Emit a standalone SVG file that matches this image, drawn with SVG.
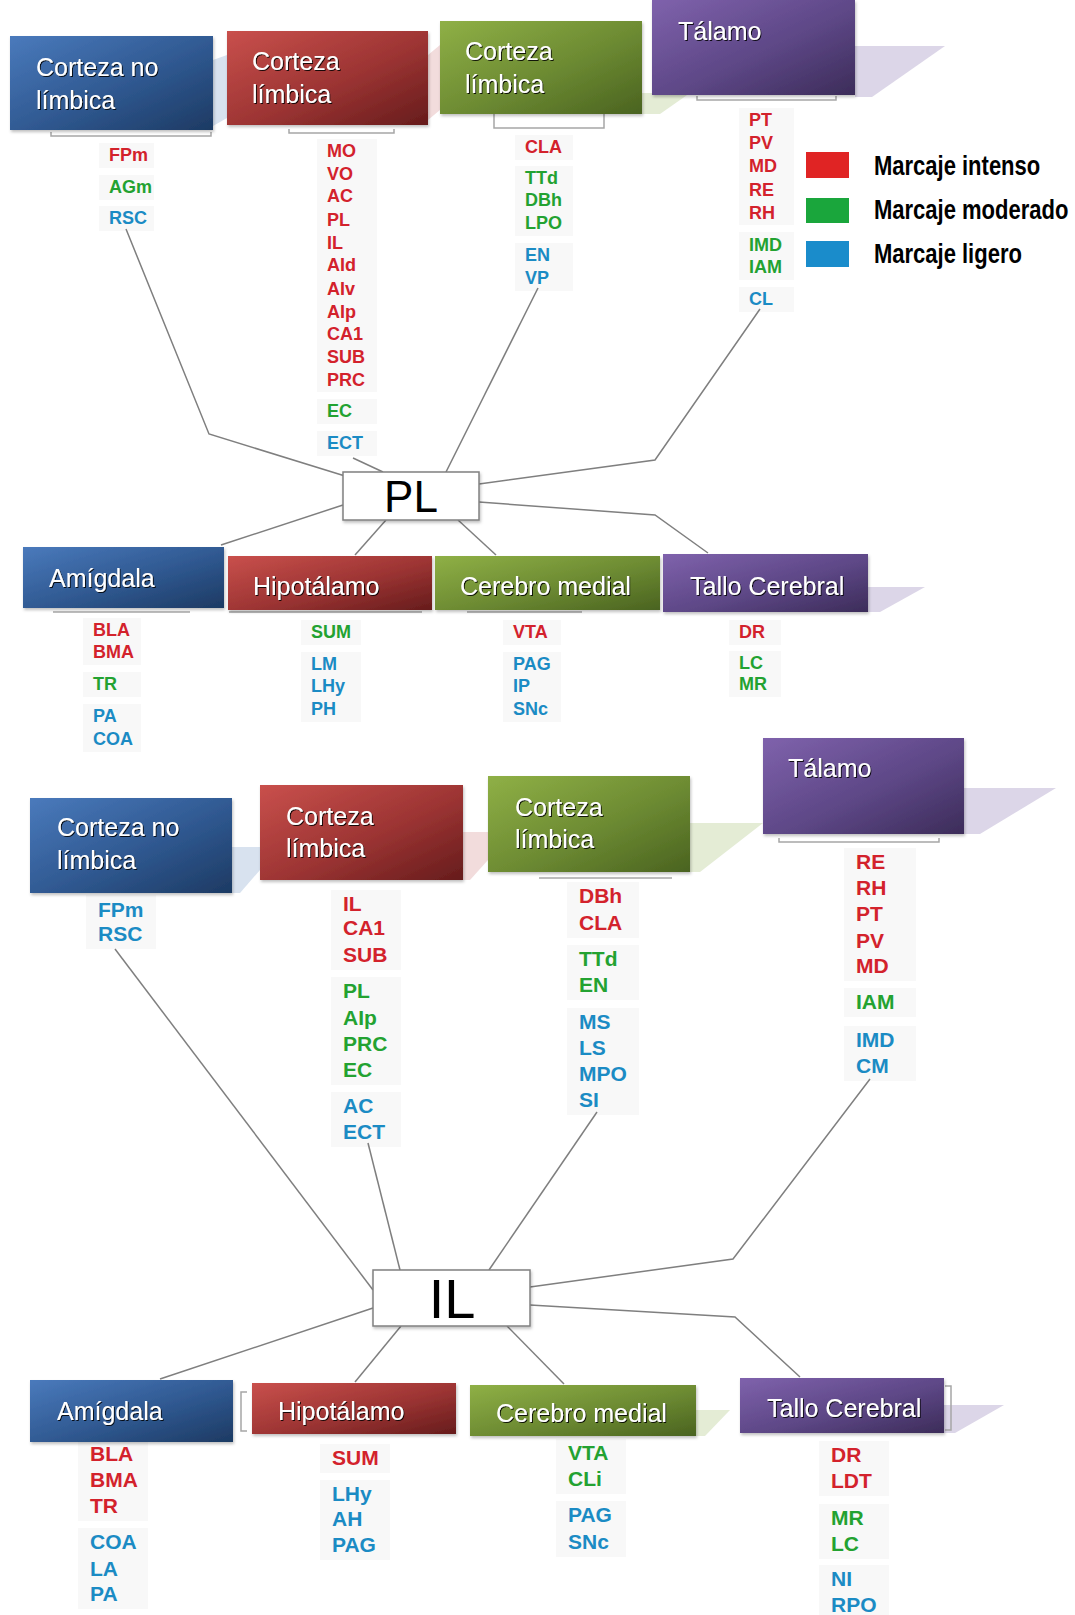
<svg xmlns="http://www.w3.org/2000/svg" width="1075" height="1615" viewBox="0 0 1075 1615">
<defs>
<linearGradient id="gBlue" x1="0" y1="0" x2="1" y2="1"><stop offset="0" stop-color="#4a7abc"/><stop offset="0.55" stop-color="#2f5890"/><stop offset="1" stop-color="#1d3a63"/></linearGradient>
<linearGradient id="gRed" x1="0" y1="0" x2="1" y2="1"><stop offset="0" stop-color="#c9504c"/><stop offset="0.55" stop-color="#9c3433"/><stop offset="1" stop-color="#661c1c"/></linearGradient>
<linearGradient id="gGreen" x1="0" y1="0" x2="1" y2="1"><stop offset="0" stop-color="#8fb046"/><stop offset="0.55" stop-color="#6c8a32"/><stop offset="1" stop-color="#4a6320"/></linearGradient>
<linearGradient id="gPurple" x1="0" y1="0" x2="1" y2="1"><stop offset="0" stop-color="#7f62ac"/><stop offset="0.55" stop-color="#5d4786"/><stop offset="1" stop-color="#3c2c59"/></linearGradient>
<filter id="ts" x="-10%" y="-30%" width="130%" height="160%"><feDropShadow dx="1" dy="1" stdDeviation="0.6" flood-color="#000" flood-opacity="0.85"/></filter>
<filter id="bs" x="-5%" y="-5%" width="115%" height="120%"><feDropShadow dx="1" dy="2" stdDeviation="1.5" flood-color="#000" flood-opacity="0.25"/></filter>
</defs>
<style>
.t{font-family:"Liberation Sans",Arial,sans-serif;font-size:25px;fill:#fff;filter:url(#ts)}
.s{font-family:"Liberation Sans",Arial,sans-serif;font-size:18px;font-weight:bold}
.m{font-family:"Liberation Sans",Arial,sans-serif;font-size:21px;font-weight:bold}
.r{fill:#d3222c}.g{fill:#23a231}.b{fill:#1b8bc4}
.bg{fill:#f8f8f8}
.br{fill:none;stroke:#a6a6a6;stroke-width:1.5}
.wp{fill:#dcd6e8}.wg{fill:#e4ecd5}.wr{fill:#f2dcdc}.wb{fill:#d8e2ef}
.cn{fill:none;stroke:#7f7f7f;stroke-width:1.5}
.ctr{fill:#fff;stroke:#808080;stroke-width:1.5}
.ct{font-family:"Liberation Sans",Arial,sans-serif;fill:#000;text-anchor:middle}
.lg{font-family:"Liberation Sans",Arial,sans-serif;font-size:22px;font-weight:bold;fill:#000}
</style>
<rect width="1075" height="1615" fill="#fff"/>

<!-- wedges / 3D accents -->
<g id="wedges">
<polygon class="wb" points="213,60 227,55 227,118 213,126"/>
<polygon class="wr" points="428,55 440,45 440,110 428,120"/>
<polygon class="wg" points="642,93 690,93 660,114 642,114"/>
<polygon class="wp" points="855,46 945,46 872,97 855,97"/>
<polygon class="wp" points="868,587 925,587 880,612 868,612"/>
<polygon class="wb" points="232,847 260,847 260,870 240,893 232,893"/>
<polygon class="wr" points="463,832 488,832 488,860 470,880 463,880"/>
<polygon class="wg" points="690,823 763,823 700,872 690,872"/>
<polygon class="wp" points="964,788 1056,788 980,834 964,834"/>
<polygon class="wg" points="696,1410 730,1410 705,1436 696,1436"/>
<polygon class="wp" points="944,1405 1004,1405 955,1433 944,1433"/>
</g>

<!-- brackets -->
<g id="brackets">
<path class="br" d="M51,132 V136 H211 V132"/>
<path class="br" d="M289,129 V133 H394 V129"/>
<path class="br" d="M494,114 V128 H604 V114"/>
<path class="br" d="M697,96 V100 H836 V96"/>
<path class="br" d="M53,612 H190"/>
<path class="br" d="M229,612 H422"/>
<path class="br" d="M467,612 H582"/>
<path class="br" d="M539,878 H672"/>
<path class="br" d="M779,838 V842 H939 V838"/>
<path class="br" d="M247,1392 H241 V1431 H247"/>
<path class="br" d="M945,1386 H951 V1430 H945"/>
</g>

<!-- list backgrounds -->
<g id="listbg">
<rect class="bg" x="99" y="143" width="55" height="25"/>
<rect class="bg" x="99" y="175" width="55" height="25"/>
<rect class="bg" x="99" y="206" width="55" height="25"/>
<rect class="bg" x="317" y="139" width="60" height="253"/>
<rect class="bg" x="317" y="399" width="60" height="25"/>
<rect class="bg" x="317" y="431" width="60" height="25"/>
<rect class="bg" x="515" y="135" width="58" height="25"/>
<rect class="bg" x="515" y="166" width="58" height="70"/>
<rect class="bg" x="515" y="243" width="58" height="48"/>
<rect class="bg" x="739" y="108" width="55" height="117"/>
<rect class="bg" x="739" y="232" width="55" height="48"/>
<rect class="bg" x="739" y="287" width="55" height="25"/>
<rect class="bg" x="83" y="618" width="58" height="47"/>
<rect class="bg" x="83" y="672" width="58" height="25"/>
<rect class="bg" x="83" y="704" width="58" height="48"/>
<rect class="bg" x="301" y="620" width="60" height="25"/>
<rect class="bg" x="301" y="652" width="60" height="70"/>
<rect class="bg" x="503" y="620" width="58" height="25"/>
<rect class="bg" x="503" y="652" width="58" height="70"/>
<rect class="bg" x="729" y="620" width="52" height="25"/>
<rect class="bg" x="729" y="651" width="52" height="46"/>
<rect class="bg" x="86" y="895" width="70" height="54"/>
<rect class="bg" x="331" y="890" width="70" height="80"/>
<rect class="bg" x="331" y="977" width="70" height="108"/>
<rect class="bg" x="331" y="1092" width="70" height="55"/>
<rect class="bg" x="567" y="882" width="72" height="56"/>
<rect class="bg" x="567" y="945" width="72" height="55"/>
<rect class="bg" x="567" y="1008" width="72" height="107"/>
<rect class="bg" x="844" y="848" width="72" height="133"/>
<rect class="bg" x="844" y="988" width="72" height="29"/>
<rect class="bg" x="844" y="1026" width="72" height="55"/>
<rect class="bg" x="78" y="1440" width="70" height="81"/>
<rect class="bg" x="78" y="1528" width="70" height="81"/>
<rect class="bg" x="320" y="1444" width="70" height="29"/>
<rect class="bg" x="320" y="1480" width="70" height="80"/>
<rect class="bg" x="556" y="1439" width="70" height="55"/>
<rect class="bg" x="556" y="1501" width="70" height="56"/>
<rect class="bg" x="819" y="1441" width="70" height="55"/>
<rect class="bg" x="819" y="1504" width="70" height="55"/>
<rect class="bg" x="819" y="1565" width="70" height="50"/>
</g>

<!-- connectors -->
<g id="connectors">
<polyline class="cn" points="126,229 209,434 345,476"/>
<polyline class="cn" points="353,458 383,472"/>
<polyline class="cn" points="538,288 446,472"/>
<polyline class="cn" points="760,309 655,460 479,484"/>
<polyline class="cn" points="479,502 655,515 708,553"/>
<polyline class="cn" points="458,520 496,555"/>
<polyline class="cn" points="386,520 355,555"/>
<polyline class="cn" points="343,505 221,545"/>
<polyline class="cn" points="115,949 373,1290"/>
<polyline class="cn" points="368,1143 400,1270"/>
<polyline class="cn" points="597,1112 489,1270"/>
<polyline class="cn" points="870,1079 733,1259 530,1287"/>
<polyline class="cn" points="530,1305 735,1317 800,1377"/>
<polyline class="cn" points="507,1326 564,1384"/>
<polyline class="cn" points="401,1326 355,1382"/>
<polyline class="cn" points="373,1308 160,1379"/>
</g>

<!-- ===== PL section ===== -->
<g id="pl-corteza-no-limbica">
<rect x="10" y="36" width="203" height="94" fill="url(#gBlue)" filter="url(#bs)"/>
<text class="t" x="36" y="76">Corteza no</text>
<text class="t" x="36" y="109">límbica</text>
<text class="s r" x="109" y="161">FPm</text>
<text class="s g" x="109" y="193">AGm</text>
<text class="s b" x="109" y="224">RSC</text>
</g>
<g id="pl-corteza-limbica-1">
<rect x="227" y="31" width="201" height="94" fill="url(#gRed)" filter="url(#bs)"/>
<text class="t" x="252" y="70">Corteza</text>
<text class="t" x="252" y="103">límbica</text>
<text class="s r" x="327" y="157">MO</text>
<text class="s r" x="327" y="180">VO</text>
<text class="s r" x="327" y="202">AC</text>
<text class="s r" x="327" y="226">PL</text>
<text class="s r" x="327" y="249">IL</text>
<text class="s r" x="327" y="271">AId</text>
<text class="s r" x="327" y="295">AIv</text>
<text class="s r" x="327" y="318">AIp</text>
<text class="s r" x="327" y="340">CA1</text>
<text class="s r" x="327" y="363">SUB</text>
<text class="s r" x="327" y="386">PRC</text>
<text class="s g" x="327" y="417">EC</text>
<text class="s b" x="327" y="449">ECT</text>
</g>
<g id="pl-corteza-limbica-2">
<rect x="440" y="21" width="202" height="93" fill="url(#gGreen)" filter="url(#bs)"/>
<text class="t" x="465" y="60">Corteza</text>
<text class="t" x="465" y="93">límbica</text>
<text class="s r" x="525" y="153">CLA</text>
<text class="s g" x="525" y="184">TTd</text>
<text class="s g" x="525" y="206">DBh</text>
<text class="s g" x="525" y="229">LPO</text>
<text class="s b" x="525" y="261">EN</text>
<text class="s b" x="525" y="284">VP</text>
</g>
<g id="pl-talamo">
<rect x="652" y="0" width="203" height="95" fill="url(#gPurple)" filter="url(#bs)"/>
<text class="t" x="678" y="40">Tálamo</text>
<text class="s r" x="749" y="126">PT</text>
<text class="s r" x="749" y="149">PV</text>
<text class="s r" x="749" y="172">MD</text>
<text class="s r" x="749" y="196">RE</text>
<text class="s r" x="749" y="219">RH</text>
<text class="s g" x="749" y="251">IMD</text>
<text class="s g" x="749" y="273">IAM</text>
<text class="s b" x="749" y="305">CL</text>
</g>
<g id="legend">
<rect x="806" y="152" width="43" height="26" fill="#e02424"/>
<rect x="806" y="198" width="43" height="25" fill="#1aa63c"/>
<rect x="806" y="241" width="43" height="26" fill="#1a8ccb"/>
<text class="lg" transform="translate(874,175) scale(1,1.25)">Marcaje intenso</text>
<text class="lg" transform="translate(874,219) scale(1,1.25)">Marcaje moderado</text>
<text class="lg" transform="translate(874,263) scale(1,1.25)">Marcaje ligero</text>
</g>
<g id="pl">
<rect class="ctr" x="343" y="472" width="136" height="48" filter="url(#bs)"/>
<text class="ct" x="411" y="512" font-size="44">PL</text>
</g>
<g id="pl-amigdala">
<rect x="23" y="547" width="201" height="61" fill="url(#gBlue)" filter="url(#bs)"/>
<text class="t" x="49" y="587">Amígdala</text>
<text class="s r" x="93" y="636">BLA</text>
<text class="s r" x="93" y="658">BMA</text>
<text class="s g" x="93" y="690">TR</text>
<text class="s b" x="93" y="722">PA</text>
<text class="s b" x="93" y="745">COA</text>
</g>
<g id="pl-hipotalamo">
<rect x="228" y="556" width="204" height="54" fill="url(#gRed)" filter="url(#bs)"/>
<text class="t" x="253" y="595">Hipotálamo</text>
<text class="s g" x="311" y="638">SUM</text>
<text class="s b" x="311" y="670">LM</text>
<text class="s b" x="311" y="692">LHy</text>
<text class="s b" x="311" y="715">PH</text>
</g>
<g id="pl-cerebro-medial">
<rect x="435" y="556" width="225" height="54" fill="url(#gGreen)" filter="url(#bs)"/>
<text class="t" x="460" y="595">Cerebro medial</text>
<text class="s r" x="513" y="638">VTA</text>
<text class="s b" x="513" y="670">PAG</text>
<text class="s b" x="513" y="692">IP</text>
<text class="s b" x="513" y="715">SNc</text>
</g>
<g id="pl-tallo-cerebral">
<rect x="663" y="554" width="205" height="58" fill="url(#gPurple)" filter="url(#bs)"/>
<text class="t" x="690" y="595">Tallo Cerebral</text>
<text class="s r" x="739" y="638">DR</text>
<text class="s g" x="739" y="669">LC</text>
<text class="s g" x="739" y="690">MR</text>
</g>

<!-- ===== IL section ===== -->
<g id="il-corteza-no-limbica">
<rect x="30" y="798" width="202" height="95" fill="url(#gBlue)" filter="url(#bs)"/>
<text class="t" x="57" y="836">Corteza no</text>
<text class="t" x="57" y="869">límbica</text>
<text class="m b" x="98" y="917">FPm</text>
<text class="m b" x="98" y="941">RSC</text>
</g>
<g id="il-corteza-limbica-1">
<rect x="260" y="785" width="203" height="95" fill="url(#gRed)" filter="url(#bs)"/>
<text class="t" x="286" y="825">Corteza</text>
<text class="t" x="286" y="857">límbica</text>
<text class="m r" x="343" y="911">IL</text>
<text class="m r" x="343" y="935">CA1</text>
<text class="m r" x="343" y="962">SUB</text>
<text class="m g" x="343" y="998">PL</text>
<text class="m g" x="343" y="1025">AIp</text>
<text class="m g" x="343" y="1051">PRC</text>
<text class="m g" x="343" y="1077">EC</text>
<text class="m b" x="343" y="1113">AC</text>
<text class="m b" x="343" y="1139">ECT</text>
</g>
<g id="il-corteza-limbica-2">
<rect x="488" y="776" width="202" height="96" fill="url(#gGreen)" filter="url(#bs)"/>
<text class="t" x="515" y="816">Corteza</text>
<text class="t" x="515" y="848">límbica</text>
<text class="m r" x="579" y="903">DBh</text>
<text class="m r" x="579" y="930">CLA</text>
<text class="m g" x="579" y="966">TTd</text>
<text class="m g" x="579" y="992">EN</text>
<text class="m b" x="579" y="1029">MS</text>
<text class="m b" x="579" y="1055">LS</text>
<text class="m b" x="579" y="1081">MPO</text>
<text class="m b" x="579" y="1107">SI</text>
</g>
<g id="il-talamo">
<rect x="763" y="738" width="201" height="96" fill="url(#gPurple)" filter="url(#bs)"/>
<text class="t" x="788" y="777">Tálamo</text>
<text class="m r" x="856" y="869">RE</text>
<text class="m r" x="856" y="895">RH</text>
<text class="m r" x="856" y="921">PT</text>
<text class="m r" x="856" y="948">PV</text>
<text class="m r" x="856" y="973">MD</text>
<text class="m g" x="856" y="1009">IAM</text>
<text class="m b" x="856" y="1047">IMD</text>
<text class="m b" x="856" y="1073">CM</text>
</g>
<g id="il">
<rect class="ctr" x="373" y="1270" width="157" height="56" filter="url(#bs)"/>
<text class="ct" x="452" y="1318" font-size="56">IL</text>
</g>
<g id="il-amigdala">
<rect x="30" y="1380" width="203" height="62" fill="url(#gBlue)" filter="url(#bs)"/>
<text class="t" x="57" y="1420">Amígdala</text>
<text class="m r" x="90" y="1461">BLA</text>
<text class="m r" x="90" y="1487">BMA</text>
<text class="m r" x="90" y="1513">TR</text>
<text class="m b" x="90" y="1549">COA</text>
<text class="m b" x="90" y="1576">LA</text>
<text class="m b" x="90" y="1601">PA</text>
</g>
<g id="il-hipotalamo">
<rect x="252" y="1383" width="204" height="51" fill="url(#gRed)" filter="url(#bs)"/>
<text class="t" x="278" y="1420">Hipotálamo</text>
<text class="m r" x="332" y="1465">SUM</text>
<text class="m b" x="332" y="1501">LHy</text>
<text class="m b" x="332" y="1526">AH</text>
<text class="m b" x="332" y="1552">PAG</text>
</g>
<g id="il-cerebro-medial">
<rect x="470" y="1385" width="226" height="51" fill="url(#gGreen)" filter="url(#bs)"/>
<text class="t" x="496" y="1422">Cerebro medial</text>
<text class="m g" x="568" y="1460">VTA</text>
<text class="m g" x="568" y="1486">CLi</text>
<text class="m b" x="568" y="1522">PAG</text>
<text class="m b" x="568" y="1549">SNc</text>
</g>
<g id="il-tallo-cerebral">
<rect x="740" y="1378" width="204" height="55" fill="url(#gPurple)" filter="url(#bs)"/>
<text class="t" x="767" y="1417">Tallo Cerebral</text>
<text class="m r" x="831" y="1462">DR</text>
<text class="m r" x="831" y="1488">LDT</text>
<text class="m g" x="831" y="1525">MR</text>
<text class="m g" x="831" y="1551">LC</text>
<text class="m b" x="831" y="1586">NI</text>
<text class="m b" x="831" y="1612">RPO</text>
</g>
</svg>
